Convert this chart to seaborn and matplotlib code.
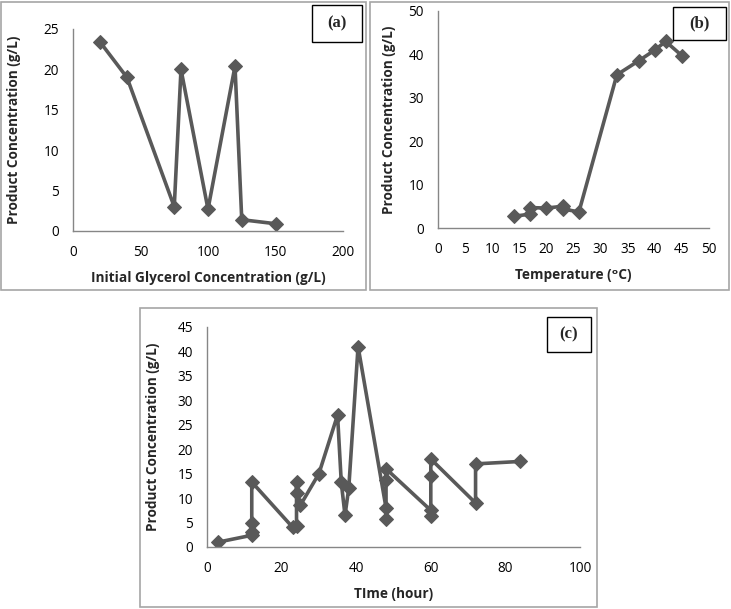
import numpy as np
import pandas as pd
import matplotlib
matplotlib.use("Agg")
import matplotlib.pyplot as plt
import seaborn as sns
from matplotlib.patches import Rectangle

# (a) initial glycerol concentration
glycerol = [20, 40, 75, 80, 100, 120, 125, 150]
product_a = [23.4, 19.0, 3.0, 20.0, 2.7, 20.4, 1.4, 0.9]

# (b) temperature
temperature = [14, 17, 17, 20, 23, 23, 26, 33, 37, 40, 42, 45]
product_b = [2.7, 3.2, 4.7, 4.6, 5.0, 4.4, 3.7, 35.3, 38.5, 41.0, 43.0, 39.7]

# (c) time
time_h = [3, 12, 12, 12, 12, 23, 24, 24, 24, 25, 30, 35, 36, 37, 38, 40.5,
          48, 48, 48, 48, 60, 60, 60, 60, 72, 72, 84]
product_c = [1.0, 2.4, 3.0, 4.9, 13.3, 4.0, 4.2, 13.2, 11.0, 8.5, 15.0, 27.0,
             13.2, 6.5, 12.0, 41.0, 8.0, 5.8, 13.8, 16.0, 7.5, 6.3, 14.5, 18.0,
             9.0, 17.0, 17.5]

W, H = 731, 609
LINE = "#595959"
AXC = "#868686"

sns.set_style("white")
plt.rcParams["font.family"] = ["Open Sans", "DejaVu Sans"]

fig = plt.figure(figsize=(W / 100, H / 100), dpi=100)


def px_axes(left, top, right, bottom):
    return fig.add_axes([left / W, 1 - bottom / H, (right - left) / W, (bottom - top) / H])


def panel_box(left, top, right, bottom):
    fig.patches.append(Rectangle((left / W, 1 - bottom / H), (right - left) / W,
                                 (bottom - top) / H, transform=fig.transFigure,
                                 fill=False, edgecolor="#a6a6a6", linewidth=1.2))


def draw(ax, x, y, xlim, xstep, ylim, ystep, xlabel, letter, lbox, ylab_x):
    df = pd.DataFrame({"x": x, "y": y})
    sns.lineplot(data=df, x="x", y="y", sort=False, estimator=None, ax=ax,
                 color=LINE, linewidth=2.6, marker="D", markersize=7.5,
                 markeredgecolor=LINE, markerfacecolor=LINE)
    ax.set_xlim(*xlim)
    ax.set_ylim(*ylim)
    ax.set_xticks(np.arange(xlim[0], xlim[1] + 0.1, xstep))
    ax.set_yticks(np.arange(ylim[0], ylim[1] + 0.1, ystep))
    for s in ["top", "right"]:
        ax.spines[s].set_visible(False)
    for s in ["left", "bottom"]:
        ax.spines[s].set_color(AXC)
        ax.spines[s].set_linewidth(1.0)
    ax.tick_params(axis="both", direction="out", length=4, width=1, color=AXC,
                   labelsize=9.8, labelcolor="black", pad=6)
    ax.set_xlabel(xlabel, fontsize=9.8, fontweight="bold", labelpad=8)
    ax.set_ylabel("Product Concentration (g/L)", fontsize=9.8, fontweight="bold")
    # label anchor is its right-hand side, so shift by half the text height
    pos = ax.get_position()
    ax.yaxis.set_label_coords((ylab_x + 7 - pos.x0 * W) / (pos.width * W), 0.5)
    bl, bt, br, bb = lbox
    fig.text((bl + br) / 2 / W, 1 - (bt + bb) / 2 / H, letter, ha="center", va="center",
             fontsize=12, fontweight="bold", family="Liberation Serif")
    fig.patches.append(Rectangle((bl / W, 1 - bb / H), (br - bl) / W, (bb - bt) / H,
                                 transform=fig.transFigure, fill=False,
                                 edgecolor="black", linewidth=1.0))


panel_box(1, 2, 366, 290)
panel_box(370, 2, 729, 290)
panel_box(140, 308, 597, 607)

ax_a = px_axes(73, 29, 343, 231)
draw(ax_a, glycerol, product_a, (0, 200), 50, (0, 25), 5,
     "Initial Glycerol Concentration (g/L)", "(a)", (312, 5, 362, 42), 14)

ax_b = px_axes(438, 11, 709, 228)
draw(ax_b, temperature, product_b, (0, 50), 5, (0, 50), 10,
     "Temperature (\u1d52C)", "(b)", (673, 7, 726, 40), 389)

ax_c = px_axes(207, 327, 580, 547)
draw(ax_c, time_h, product_c, (0, 100), 20, (0, 45), 5,
     "TIme (hour)", "(c)", (547, 317, 591, 352), 153)

fig.savefig("out.png", dpi=100)
